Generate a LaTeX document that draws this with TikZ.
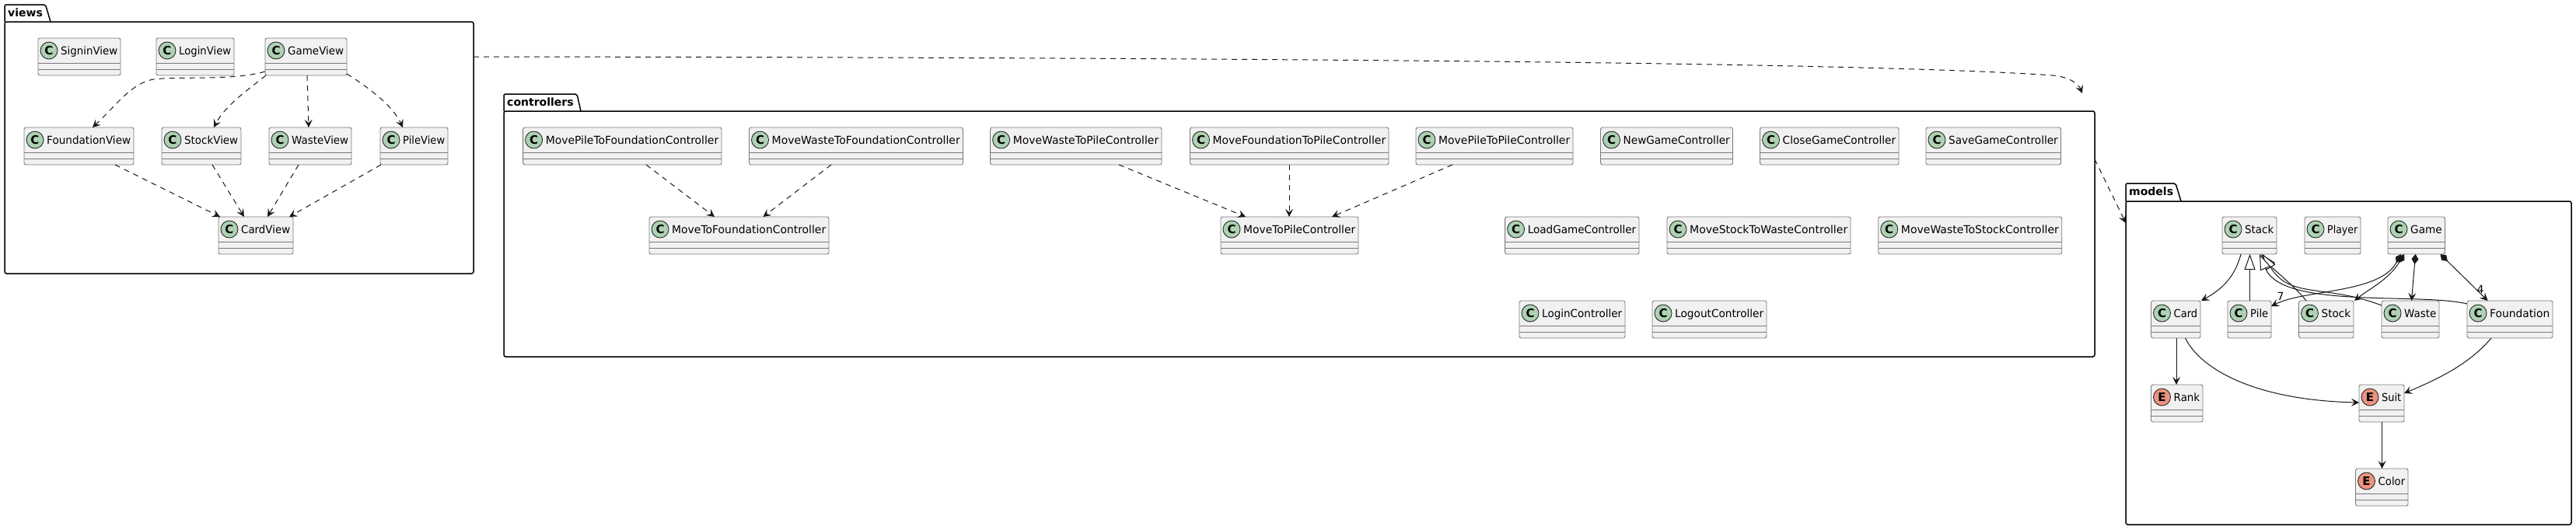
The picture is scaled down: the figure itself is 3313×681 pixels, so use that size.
\documentclass[tikz,border=0pt]{standalone}
\usepackage{fontspec}
\setmainfont{DejaVu Sans}
\usepackage{graphicx}
\usetikzlibrary{arrows.meta}
\definecolor{boxfill}{HTML}{F1F1F1}
\definecolor{boxline}{HTML}{7A7A7A}
\definecolor{ink}{HTML}{181818}
\definecolor{spotc}{HTML}{ADD1B2}
\definecolor{spote}{HTML}{EB937F}
\newsavebox\fitbox
\newlength\fitlen
\newcommand\fitto[2]{\sbox\fitbox{#2}\setlength\fitlen{\wd\fitbox}\pgfmathsetmacro\fitr{max(0.8,min(1.15,(#1)/\fitlen))}\scalebox{\fitr}[1]{\usebox\fitbox}}
\tikzset{
  umlbox/.style={draw=boxline, line width=0.9pt, fill=boxfill, rounded corners=2.5pt, minimum height=48pt, inner sep=0pt, outer sep=0pt},
  umlsep/.style={draw=boxline, line width=0.9pt},
  spotC/.style={circle, draw=ink, line width=0.8pt, fill=spotc, minimum size=22pt, inner sep=0pt, font=\bfseries\fontsize{15}{15}\selectfont},
  spotE/.style={circle, draw=ink, line width=0.8pt, fill=spote, minimum size=22pt, inner sep=0pt, font=\bfseries\fontsize{15}{15}\selectfont},
  umlname/.style={inner sep=0pt, font=\fontsize{14}{16}\selectfont},
  pkgbody/.style={draw=black, line width=1.5pt, rounded corners=2.5pt, inner sep=0pt, outer sep=0pt},
  pkgtab/.style={draw=black, line width=1.5pt, rounded corners=2pt},
  pkglabel/.style={inner sep=0pt, font=\bfseries\fontsize{14}{16}\selectfont},
  tipA/.tip={Stealth[length=10pt,width=10pt,inset=4pt]},
  dep/.style={draw=ink, line width=1pt, dash pattern=on 7pt off 6pt, -tipA},
  assoc/.style={draw=ink, line width=1pt, -tipA},
  inh/.style={draw=ink, line width=1pt, -{Triangle[open,fill=white,length=20pt,width=14pt]}},
  comp/.style={draw=ink, line width=1pt, {Diamond[length=13pt,width=9pt]}-tipA},
  mult/.style={inner sep=0pt, font=\fontsize{14}{16}\selectfont},
}
% #1 id, #2 left, #3 top, #4 width, #5 label, #6 letter
\newcommand\umlcls[6]{%
  \node[umlbox, minimum width=#4pt, anchor=north west] (#1) at (#2,#3) {};
  \draw[umlsep] ([yshift=-32pt]#1.north west) -- ([yshift=-32pt]#1.north east);
  \draw[umlsep] ([yshift=-40pt]#1.north west) -- ([yshift=-40pt]#1.north east);
  \node[spot#6] (#1-spot) at ([xshift=14pt,yshift=-16pt]#1.north west) {#6};
  \node[umlname, anchor=base west] (#1-name) at ([xshift=29pt,yshift=-21pt]#1.north west) {\fitto{#4-33}{#5}};
}
% #1 id, #2 L, #3 tabtop, #4 tab right top, #5 tab right bottom, #6 bodytop, #7 width, #8 height, #9 label
\newcommand\umlpkg[9]{%
  \node[pkgbody, minimum width=#7pt, minimum height=#8pt, anchor=north west] (#1) at (#2,#6) {};
  \draw[pkgtab] (#2,#6) -- (#2,#3) -- (#4,#3) -- (#5,#6);
  \node[pkglabel, anchor=base west] (#1-label) at ([xshift=4pt,yshift=-15pt]#2,#3) {#9};
}
\begin{document}
\begin{tikzpicture}[x=1pt,y=-1pt]
\useasboundingbox (0,0) rectangle (3313,681);
% packages
\umlpkg{views}{6}{6}{58.5}{65}{28}{603}{324}{views}
\umlpkg{controllers}{648}{121}{742}{747}{143}{2046}{316}{controllers}
\umlpkg{models}{2734}{236}{2798}{2805}{259}{573}{416}{models}
% views
\umlcls{SigninView}{49}{49}{106}{SigninView}{C}
\umlcls{LoginView}{201}{49}{100}{LoginView}{C}
\umlcls{GameView}{341}{49}{105}{GameView}{C}
\umlcls{FoundationView}{31}{164}{141}{FoundationView}{C}
\umlcls{StockView}{208}{164}{102}{StockView}{C}
\umlcls{WasteView}{346}{164}{106}{WasteView}{C}
\umlcls{PileView}{489}{164}{87}{PileView}{C}
\umlcls{CardView}{281}{279}{96}{CardView}{C}
% controllers
\umlcls{MPTF}{672.6}{164}{255.4}{MovePileToFoundationController}{C}
\umlcls{MWTF}{963.5}{164}{275}{MoveWasteToFoundationController}{C}
\umlcls{MWTP}{1273.6}{164}{220.4}{MoveWasteToPileController}{C}
\umlcls{MFTP}{1530.5}{164}{255.5}{MoveFoundationToPileController}{C}
\umlcls{MPTP}{1821}{164}{202}{MovePileToPileController}{C}
\umlcls{NewGame}{2058.5}{164}{170}{NewGameController}{C}
\umlcls{CloseGame}{2263.5}{164}{178.5}{CloseGameController}{C}
\umlcls{SaveGame}{2477}{164}{173.5}{SaveGameController}{C}
\umlcls{MTF}{835}{279}{231}{MoveToFoundationController}{C}
\umlcls{MTP}{1570}{279}{177}{MoveToPileController}{C}
\umlcls{LoadGame}{1935.6}{279}{172.4}{LoadGameController}{C}
\umlcls{MSTW}{2144}{279}{236}{MoveStockToWasteController}{C}
\umlcls{MWTS}{2415.7}{279}{236}{MoveWasteToStockController}{C}
\umlcls{LoginC}{1954}{387}{136}{LoginController}{C}
\umlcls{LogoutC}{2125}{387}{147}{LogoutController}{C}
% models
\umlcls{Stack}{2858}{279}{70}{Stack}{C}
\umlcls{Player}{2964}{279}{72}{Player}{C}
\umlcls{Game}{3071}{279}{73.5}{Game}{C}
\umlcls{Card}{2766.5}{387}{63.5}{Card}{C}
\umlcls{Pile}{2865}{387}{56}{Pile}{C}
\umlcls{Stock}{2956.5}{387}{70.5}{Stock}{C}
\umlcls{Waste}{3063}{387}{74}{Waste}{C}
\umlcls{Foundation}{3173}{387}{110}{Foundation}{C}
\umlcls{Rank}{2766.5}{495}{66.5}{Rank}{E}
\umlcls{Suit}{3034}{495}{58}{Suit}{E}
\umlcls{Color}{3029.5}{603}{67.5}{Color}{E}
% views edges
\draw[dep] ([yshift=5pt]GameView.south west) .. controls (300,104) and (230,98) .. (198,102) .. controls (170,106) and (150,135) .. ([xshift=88pt]FoundationView.north west);
\draw[dep] ([xshift=1pt]GameView.south west) .. controls (320,115) and (290,135) .. ([xshift=67pt]StockView.north west);
\draw[dep] ([xshift=54pt]GameView.south west) -- ([xshift=51pt]WasteView.north west);
\draw[dep] ([yshift=2pt]GameView.south east) .. controls (470,110) and (505,135) .. ([xshift=29pt]PileView.north west);
\draw[dep] ([xshift=117pt]FoundationView.south west) -- ([xshift=2pt]CardView.north west);
\draw[dep] ([xshift=65pt]StockView.south west) -- ([xshift=33pt]CardView.north west);
\draw[dep] ([xshift=38pt]WasteView.south west) -- ([xshift=63pt]CardView.north west);
\draw[dep] ([xshift=1pt]PileView.south west) -- ([xshift=91pt]CardView.north west);
% controllers edges
\draw[dep] ([xshift=158.4pt]MPTF.south west) -- ([xshift=84pt]MTF.north west);
\draw[dep] ([xshift=105.5pt]MWTF.south west) -- ([xshift=146.5pt]MTF.north west);
\draw[dep] ([xshift=165.4pt]MWTP.south west) -- ([xshift=32pt]MTP.north west);
\draw[dep] ([xshift=127.5pt]MFTP.south west) -- ([xshift=88pt]MTP.north west);
\draw[dep] ([xshift=47pt]MPTP.south west) -- ([xshift=143pt]MTP.north west);
% package edges
\coordinate (viewsTip) at (2678,120);
\draw[dep] ([yshift=-45pt]views.north east) .. controls (1600,74) and (2400,80) .. (2640,97) .. controls (2662,99) and (2673,108) .. (viewsTip);
\draw[dep] ([yshift=-62pt]controllers.north east) -- ([yshift=-28pt]models.north west);
% models edges
\draw[assoc] ([xshift=24pt]Stack.south west) .. controls (2874,358) and (2856,373) .. ([xshift=1pt]Card.north east);
\draw[inh] ([xshift=28.5pt]Pile.north west) -- ([xshift=35.5pt]Stack.south west);
\draw[inh] ([xshift=9.5pt]Stock.north west) .. controls (2950,367) and (2925,348) .. ([xshift=50pt]Stack.south west);
\draw[inh] ([yshift=-6pt]Waste.north west) .. controls (2990,365) and (2945,385) .. ([xshift=52pt]Stack.south west);
\draw[inh] ([yshift=-4pt]Foundation.north west) .. controls (3110,376) and (2935,398) .. ([xshift=48pt]Stack.south west);
\draw[comp] ([xshift=17pt]Game.south west) .. controls (3060,378) and (2965,372) .. ([yshift=-7pt]Pile.north east);
\draw[comp] ([xshift=21pt]Game.south west) .. controls (3072,360) and (3045,373) .. ([xshift=1pt]Stock.north east);
\draw[comp] ([xshift=35.5pt]Game.south west) -- ([xshift=38.5pt]Waste.north west);
\draw[comp] ([xshift=67.5pt]Game.south west) -- ([xshift=26.5pt]Foundation.north west);
\node[mult] (m7) at (2933,381) {7};
\node[mult] (m4) at (3190,372) {4};
\draw[assoc] ([xshift=32.5pt]Card.south west) -- ([xshift=32.5pt]Rank.north west);
\draw[assoc] ([xshift=44pt]Card.south west) .. controls (2830,475) and (2900,515) .. ([yshift=-23pt]Suit.north west);
\draw[assoc] ([xshift=31pt]Foundation.south west) .. controls (3175,470) and (3130,490) .. ([yshift=-11pt]Suit.north east);
\draw[assoc] ([xshift=29.5pt]Suit.south west) -- ([xshift=34pt]Color.north west);
\end{tikzpicture}
\end{document}
